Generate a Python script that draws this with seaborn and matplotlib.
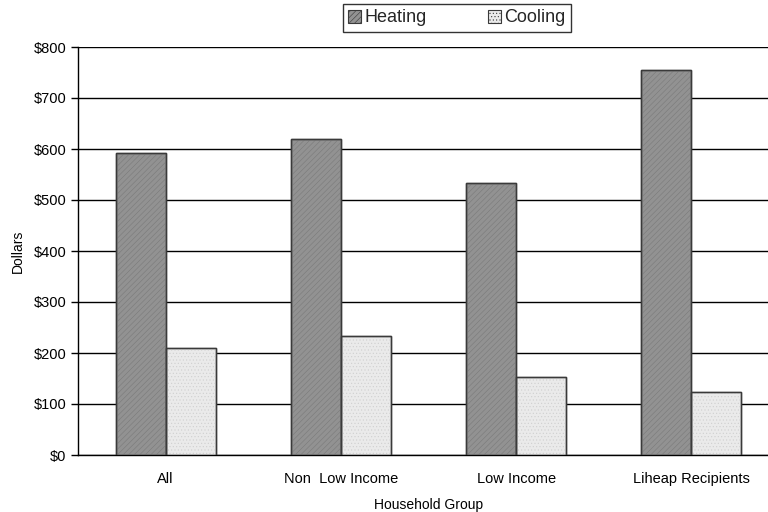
import matplotlib
matplotlib.use("Agg")
import matplotlib.pyplot as plt
import seaborn as sns
import pandas as pd
import numpy as np

groups = ["All", "Non  Low Income", "Low Income", "Liheap Recipients"]
heating = [592, 620, 534, 754]
cooling = [209, 233, 153, 123]
series_names = ["Heating", "Cooling"]
y_ticks = [0, 100, 200, 300, 400, 500, 600, 700, 800]

df = pd.DataFrame({
    "group": groups * 2,
    "series": [series_names[0]] * len(groups) + [series_names[1]] * len(groups),
    "value": heating + cooling,
})

sns.set_theme(style="white")
plt.rcParams["font.family"] = ["Liberation Sans", "DejaVu Sans"]
plt.rcParams["hatch.linewidth"] = 0.4

fig = plt.figure(figsize=(7.68, 5.12), dpi=100)
ax = fig.add_axes([78 / 768, 1 - 455 / 512, (779 - 78) / 768, (455 - 47) / 512])

palette = {"Heating": "#929292", "Cooling": "#eaeaea"}
sns.barplot(data=df, x="group", y="value", hue="series", order=groups,
            hue_order=series_names, palette=palette, width=0.572, gap=0,
            edgecolor="#3a3a3a", linewidth=1.0, saturation=1, ax=ax,
            legend=False, errorbar=None, zorder=3)

# fine texture on the bar faces
hatches = {"Heating": "//////", "Cooling": "....."}
hatch_colors = {"Heating": "#7a7a7a", "Cooling": "#cfcfcf"}
for container, name in zip(ax.containers, series_names):
    for bar in container:
        x, y = bar.get_x(), bar.get_y()
        w, h = bar.get_width(), bar.get_height()
        ax.add_patch(plt.Rectangle((x, y), w, h, facecolor="none",
                                   edgecolor=hatch_colors[name],
                                   hatch=hatches[name], linewidth=0, zorder=3.5))
        ax.add_patch(plt.Rectangle((x, y), w, h, facecolor="none",
                                   edgecolor="#3a3a3a", linewidth=1.0, zorder=4))

ax.set_ylim(0, 800)
ax.set_xlim(-0.5, len(groups) - 0.5)
ax.set_yticks(y_ticks)
ax.set_yticklabels([f"${v}" for v in y_ticks])
ax.yaxis.grid(True, color="black", linewidth=1.0, zorder=0)
ax.set_axisbelow(True)

ax.set_xticks(range(len(groups)))
ax.set_xticklabels(groups)
ax.set_xticks(np.arange(0.5, len(groups) - 0.5, 1.0), minor=True)
ax.tick_params(axis="x", which="major", length=0, pad=12, labelsize=10.5, colors="black")
ax.tick_params(axis="x", which="minor", length=5, width=1, color="black", direction="out")
ax.tick_params(axis="y", length=5, width=1, color="black", direction="out",
               labelsize=10.5, labelcolor="black", left=True)

for side in ["top", "right"]:
    ax.spines[side].set_visible(False)
for side in ["left", "bottom"]:
    ax.spines[side].set_color("black")
    ax.spines[side].set_linewidth(1.0)

ax.set_xlabel("Household Group", fontsize=10, color="black", labelpad=9)
ax.set_ylabel("Dollars", fontsize=10, color="black", labelpad=6)

handles = [plt.Rectangle((0, 0), 1, 1, facecolor=palette[n], edgecolor="#3a3a3a",
                         hatch=hatches[n], linewidth=0.8) for n in series_names]
leg = fig.legend(handles, series_names, loc="center", bbox_to_anchor=(457 / 768, 1 - 18 / 512),
                 ncol=2, frameon=True, fancybox=False, fontsize=13,
                 handlelength=0.7, handleheight=0.7, handletextpad=0.2,
                 columnspacing=3.4, borderpad=0.3, borderaxespad=0)
leg.get_frame().set_edgecolor("black")
leg.get_frame().set_linewidth(1.0)

fig.savefig("out.png", dpi=100)
